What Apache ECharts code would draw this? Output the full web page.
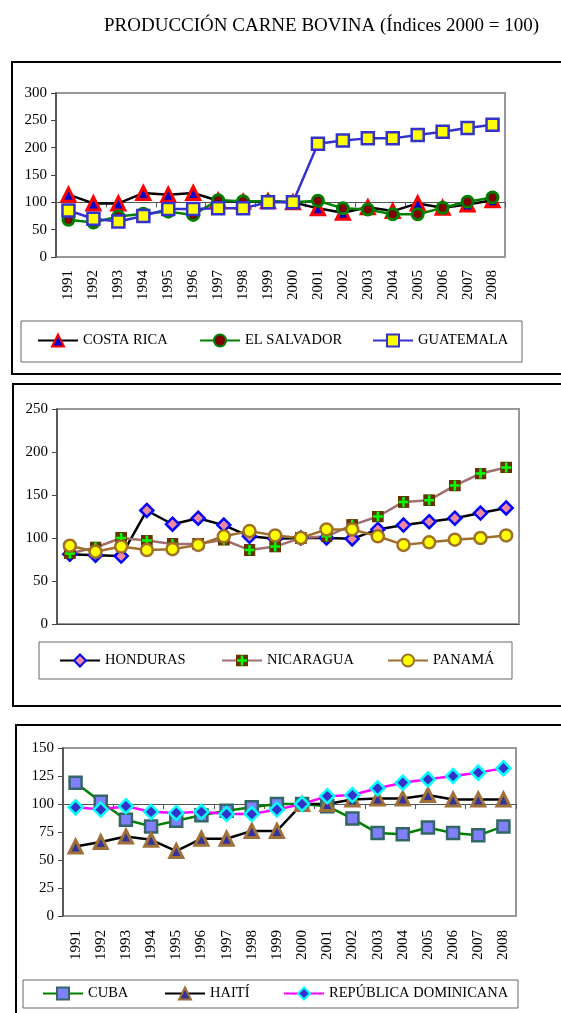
<!DOCTYPE html>
<html>
<head>
<meta charset="utf-8">
<script src="https://cdn.jsdelivr.net/npm/echarts@6/dist/echarts.min.js"></script>
<style>
  html, body { margin: 0; padding: 0; background: #fff; }
  #chart { width: 561px; height: 1013px; }
</style>
</head>
<body>
<div id="chart"></div>
<script>
// años (eje de categorías, igual en los tres paneles)
var years = ["1991", "1992", "1993", "1994", "1995", "1996", "1997", "1998", "1999",
  "2000", "2001", "2002", "2003", "2004", "2005", "2006", "2007", "2008"];

// panel 1
var costaRica = [114, 98, 98, 117, 114, 117, 103, 101, 102, 100, 89, 81, 91, 84, 98, 90, 96, 104];
var elSalvador = [68, 63, 74, 79, 83, 77, 104, 102, 102, 100, 103, 89, 87, 78, 78, 90, 101, 109];
var guatemala = [85, 70, 65, 75, 88, 88, 89, 89, 100, 100, 207, 213, 217, 217, 223, 229, 236, 242];

// panel 2
var honduras = [81, 80, 79, 132, 116, 123, 115, 102, 99, 100, 100, 99, 110, 115, 119, 123, 129, 135];
var nicaragua = [82, 89, 100, 97, 93, 93, 98, 86, 90, 100, 102, 115, 125, 142, 144, 161, 175, 182];
var panama = [91, 84, 90, 86, 87, 92, 102, 108, 103, 100, 110, 110, 102, 92, 95, 98, 100, 103];

// panel 3
var cuba = [119, 102, 86, 80, 85, 90, 94, 97, 100, 100, 98, 87, 74, 73, 79, 74, 72, 80];
var haiti = [62, 66, 71, 68, 58, 69, 69, 76, 76, 100, 100, 104, 105, 105, 108, 104, 104, 104];
var repDominicana = [97, 95, 98, 93, 92, 93, 91, 91, 95, 100, 107, 108, 114, 119, 122, 125, 128, 132];

var font = "'Liberation Serif', 'DejaVu Serif', serif";

var nicaraguaSvg = '<svg xmlns="http://www.w3.org/2000/svg" width="24" height="24">' +
  '<rect width="24" height="24" fill="#663300"/>' +
  '<path d="M12 2V22M2 12H22" stroke="#00ff00" stroke-width="5"/></svg>';
var nicaraguaSymbol = 'image://data:image/svg+xml;charset=utf-8,' + encodeURIComponent(nicaraguaSvg);

var grids = [
  { left: 56, top: 93, width: 449, height: 164 },
  { left: 57, top: 409, width: 462, height: 215 },
  { left: 63, top: 748, width: 453, height: 168 }
];

function yAxisFor(gi, max, step) {
  return {
    gridIndex: gi, type: "value", min: 0, max: max, interval: step,
    axisLine: { show: true, lineStyle: { color: "#444", width: 1.5 } },
    axisTick: { show: true, length: 5, lineStyle: { color: "#444" } },
    splitLine: { show: false },
    axisLabel: { color: "#000", fontFamily: font, fontSize: 15, margin: 9 }
  };
}

function labelAxis(gi, show, margin) {
  return {
    gridIndex: gi, type: "category", data: years, position: "bottom",
    axisLine: { show: !show, lineStyle: { color: "#444" } },
    axisTick: { show: false },
    axisLabel: { show: show, rotate: 90, color: "#000", fontFamily: font, fontSize: 15, margin: margin }
  };
}

// eje horizontal que cruza en 100
function crossAxis(gi, offset) {
  return {
    gridIndex: gi, type: "category", data: years, position: "bottom", offset: offset,
    axisLine: { show: true, lineStyle: { color: "#555", width: 1 } },
    axisTick: { show: true, length: 5, lineStyle: { color: "#555" } },
    axisLabel: { show: false }
  };
}

function lineSeries(name, data, xi, yi, lineColor, symbol, size, fill, border, bw) {
  return {
    name: name, type: "line", data: data, xAxisIndex: xi, yAxisIndex: yi,
    symbol: symbol, symbolSize: size, showAllSymbol: true,
    lineStyle: { color: lineColor, width: 2.5 },
    itemStyle: { color: fill, borderColor: border, borderWidth: bw },
    emphasis: { disabled: true },
    z: 3
  };
}

function legendFor(name, left, centerY) {
  return {
    data: [name], left: left, top: centerY - 8, padding: 0,
    itemWidth: 40, itemHeight: 15, itemGap: 4,
    textStyle: { color: "#000", fontFamily: font, fontSize: 14.5 }
  };
}

var chart = echarts.init(document.getElementById("chart"));

var option = {
  animation: false,
  backgroundColor: "#fff",
  title: {
    text: "PRODUCCIÓN CARNE BOVINA (Índices 2000 = 100)",
    left: 99, top: 12,
    textStyle: { color: "#000", fontFamily: font, fontWeight: "normal", fontSize: 19 }
  },
  graphic: [
    { type: "rect", shape: { x: 12, y: 62, width: 560, height: 312 }, style: { fill: "none", stroke: "#000", lineWidth: 2 } },
    { type: "rect", shape: { x: 13, y: 384, width: 560, height: 322 }, style: { fill: "none", stroke: "#000", lineWidth: 2 } },
    { type: "rect", shape: { x: 16, y: 725, width: 560, height: 300 }, style: { fill: "none", stroke: "#000", lineWidth: 2 } },
    { type: "rect", shape: { x: 21, y: 321, width: 501, height: 41 }, style: { fill: "none", stroke: "#666", lineWidth: 1 } },
    { type: "rect", shape: { x: 39, y: 642, width: 473, height: 37 }, style: { fill: "none", stroke: "#666", lineWidth: 1 } },
    { type: "rect", shape: { x: 23, y: 980, width: 495, height: 28 }, style: { fill: "none", stroke: "#666", lineWidth: 1 } }
  ],
  legend: [
    legendFor("COSTA RICA", 37, 341),
    legendFor("EL SALVADOR", 199, 341),
    legendFor("GUATEMALA", 372, 341),
    legendFor("HONDURAS", 59, 661),
    legendFor("NICARAGUA", 221, 661),
    legendFor("PANAMÁ", 387, 661),
    legendFor("CUBA", 42, 994),
    legendFor("HAITÍ", 164, 994),
    legendFor("REPÚBLICA DOMINICANA", 283, 994)
  ],
  grid: grids.map(function (g) {
    return { left: g.left, top: g.top, width: g.width, height: g.height, show: true,
      borderColor: "#999", borderWidth: 2, backgroundColor: "#fff" };
  }),
  xAxis: [
    labelAxis(0, true, 13),
    crossAxis(0, -grids[0].height * 100 / 300),
    labelAxis(1, false, 0),
    labelAxis(2, true, 14),
    crossAxis(2, -grids[2].height * 100 / 150)
  ],
  yAxis: [
    yAxisFor(0, 300, 50),
    yAxisFor(1, 250, 50),
    yAxisFor(2, 150, 25)
  ],
  series: [
    lineSeries("COSTA RICA", costaRica, 0, 0, "#000", "triangle", 13, "#0000cc", "#ff0000", 3),
    lineSeries("EL SALVADOR", elSalvador, 0, 0, "#008000", "circle", 11, "#800000", "#008000", 3),
    lineSeries("GUATEMALA", guatemala, 0, 0, "#3333cc", "rect", 12, "#ffff00", "#3333cc", 2.5),
    lineSeries("HONDURAS", honduras, 2, 1, "#000", "diamond", 13, "#f08aa0", "#0000ff", 2.5),
    lineSeries("NICARAGUA", nicaragua, 2, 1, "#a07070", nicaraguaSymbol, 12, "#663300", "#663300", 0),
    lineSeries("PANAMÁ", panama, 2, 1, "#a0702a", "circle", 12, "#ffff00", "#a0702a", 2.5),
    lineSeries("CUBA", cuba, 3, 2, "#008000", "rect", 12, "#8080ff", "#336666", 2.5),
    lineSeries("HAITÍ", haiti, 3, 2, "#000", "triangle", 13, "#333399", "#a0703a", 3),
    lineSeries("REPÚBLICA DOMINICANA", repDominicana, 3, 2, "#ff00ff", "diamond", 14, "#3333cc", "#00ffff", 2.5)
  ]
};

chart.setOption(option);
</script>
</body>
</html>
